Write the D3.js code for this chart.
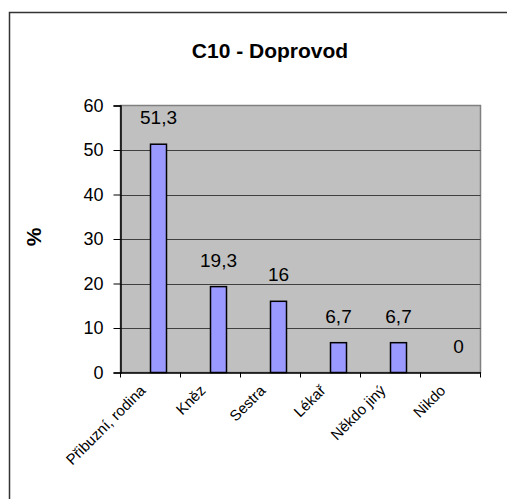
<!DOCTYPE html>
<html><head><meta charset="utf-8">
<script src="https://cdn.jsdelivr.net/npm/d3@7"></script>
<style>body{margin:0;background:#fff}svg{display:block}</style>
</head><body>
<script>
const categories = ["Přibuzní, rodina", "Kněz", "Sestra", "Lékař", "Někdo jiný", "Nikdo"];
const values = [51.3, 19.3, 16, 6.7, 6.7, 0];
const valueLabels = ["51,3", "19,3", "16", "6,7", "6,7", "0"];
const yTicks = [0, 10, 20, 30, 40, 50, 60];
const title = "C10 - Doprovod";
const yTitle = "%";

const W = 507, H = 499;
const svg = d3.select("body").append("svg").attr("width", W).attr("height", H);
const font = "Liberation Sans, Arial, sans-serif";

svg.append("rect").attr("x", 9.5).attr("y", 12.5).attr("width", 520).attr("height", 520)
  .attr("fill", "#fff").attr("stroke", "#333").attr("stroke-width", 1.5);

const L = 120.5, R = 480.5, T = 105.5, B = 372.5;
const x = d3.scaleBand().domain(categories).range([L, R]).padding(0);
const y = d3.scaleLinear().domain([0, 60]).range([B, T]);

svg.append("rect").attr("x", L).attr("y", T).attr("width", R - L).attr("height", B - T)
  .attr("fill", "#C0C0C0").attr("stroke", "#808080").attr("stroke-width", 1.5);

svg.append("g").selectAll("line").data(yTicks.filter(d => d > 0 && d < 60)).join("line")
  .attr("x1", L).attr("x2", R).attr("y1", d => Math.round(y(d)) + 0.5).attr("y2", d => Math.round(y(d)) + 0.5)
  .attr("stroke", "#404040").attr("stroke-width", 1);

const bw = 16;
svg.append("g").selectAll("rect").data(values).join("rect")
  .attr("x", (d, i) => x(categories[i]) + x.bandwidth() / 2)
  .attr("y", d => y(d))
  .attr("width", bw)
  .attr("height", d => y(0) - y(d))
  .attr("fill", "#9999FF").attr("stroke", "#000").attr("stroke-width", 1.5)
  .attr("display", d => d > 0 ? null : "none");

svg.append("g").selectAll("text").data(values).join("text")
  .attr("x", (d, i) => x(categories[i]) + x.bandwidth() / 2 + bw / 2)
  .attr("y", d => y(d) - 20)
  .attr("text-anchor", "middle")
  .attr("font-family", font).attr("font-size", 19).attr("fill", "#000")
  .text((d, i) => valueLabels[i]);

// y axis
const yAxis = d3.axisLeft(y).tickValues(yTicks).tickSize(7).tickPadding(10);
const gy = svg.append("g").attr("transform", `translate(${L},0)`).call(yAxis);
gy.select(".domain").attr("stroke", "#000").attr("stroke-width", 1.5);
gy.selectAll(".tick line").attr("stroke", "#000");
gy.selectAll(".tick text").attr("font-family", font).attr("font-size", 18).attr("fill", "#000");

// x axis
const xAxis = d3.axisBottom(x).tickSize(0).tickFormat("");
const gx = svg.append("g").attr("transform", `translate(0,${B})`).call(xAxis);
gx.select(".domain").attr("stroke", "#000").attr("stroke-width", 1.5);
svg.append("g").selectAll("line").data(d3.range(categories.length + 1)).join("line")
  .attr("x1", i => L + i * x.step()).attr("x2", i => L + i * x.step())
  .attr("y1", B).attr("y2", B + 5).attr("stroke", "#000");

svg.append("g").selectAll("text").data(categories).join("text")
  .attr("transform", d => `translate(${x(d) + x.bandwidth() / 2 - 4},${B + 19}) rotate(-45)`)
  .attr("text-anchor", "end")
  .attr("font-family", font).attr("font-size", 15).attr("fill", "#000")
  .text(d => d);

svg.append("text").attr("x", 270).attr("y", 58).attr("text-anchor", "middle")
  .attr("font-family", font).attr("font-size", 21).attr("font-weight", "bold").text(title);

svg.append("text").attr("transform", "translate(41,237) rotate(-90)").attr("text-anchor", "middle")
  .attr("font-family", font).attr("font-size", 21).attr("font-weight", "bold").text(yTitle);
</script>
</body></html>
